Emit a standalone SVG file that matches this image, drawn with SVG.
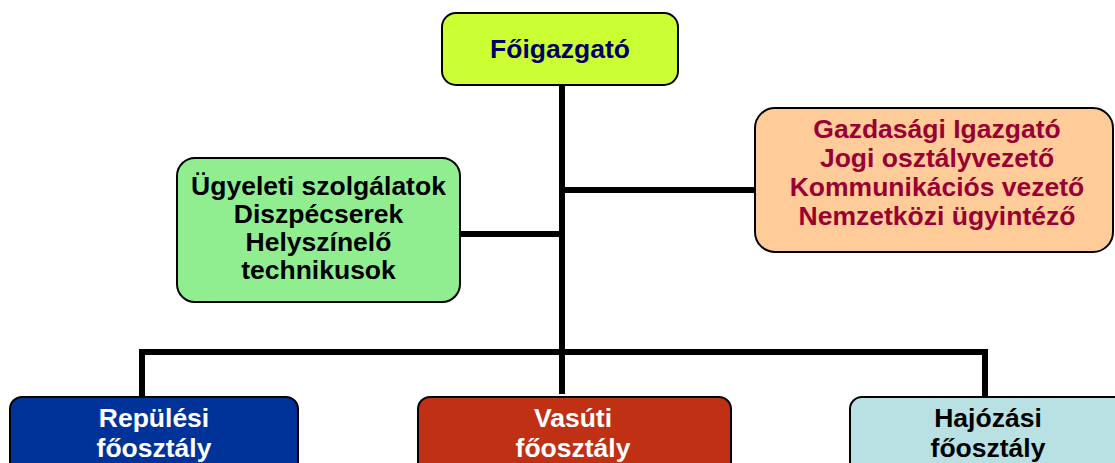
<svg xmlns="http://www.w3.org/2000/svg" width="1115" height="463" viewBox="0 0 1115 463">
<style>
.box{stroke:#000;stroke-width:2}
.t{font-family:"Liberation Sans",Arial,sans-serif;font-weight:bold;font-size:26.5px;text-anchor:middle}
.ln{stroke:#000;stroke-width:6;fill:none}
</style>
<rect width="1115" height="463" fill="#fff"/>
<g id="connectors">
<line class="ln" x1="562" y1="85" x2="562" y2="394"/>
<line class="ln" x1="460" y1="234" x2="562" y2="234"/>
<line class="ln" x1="562" y1="190" x2="755" y2="190"/>
<polyline class="ln" points="142,396 142,352 985,352 985,396"/>
</g>
<g id="n-foigazgato">
<rect class="box" x="442" y="13" width="236" height="72" rx="14" fill="#CCFF33"/>
<text class="t" x="560" y="58" fill="#000066">Főigazgató</text>
</g>
<g id="n-ugyeleti">
<rect class="box" x="177" y="158" width="283" height="144" rx="18" fill="#90EE90"/>
<text class="t" x="318.5" y="195">Ügyeleti szolgálatok</text>
<text class="t" x="318.5" y="223">Diszpécserek</text>
<text class="t" x="318.5" y="251">Helyszínelő</text>
<text class="t" x="318.5" y="279">technikusok</text>
</g>
<g id="n-gazdasagi">
<rect class="box" x="755" y="108" width="358" height="144" rx="20" fill="#FFCC99"/>
<text class="t" x="937" y="138" fill="#990033">Gazdasági Igazgató</text>
<text class="t" x="937" y="167" fill="#990033">Jogi osztályvezető</text>
<text class="t" x="937" y="196" fill="#990033">Kommunikációs vezető</text>
<text class="t" x="937" y="225" fill="#990033">Nemzetközi ügyintéző</text>
</g>
<g id="n-repulesi">
<rect class="box" x="10" y="397" width="288" height="80" rx="12" fill="#003399"/>
<text class="t" x="154" y="427" fill="#fff">Repülési</text>
<text class="t" x="154" y="457" fill="#fff">főosztály</text>
</g>
<g id="n-vasuti">
<rect class="box" x="418" y="397" width="313" height="80" rx="12" fill="#BF3014"/>
<text class="t" x="573" y="427" fill="#fff">Vasúti</text>
<text class="t" x="573" y="457" fill="#fff">főosztály</text>
</g>
<g id="n-hajozasi">
<rect class="box" x="850" y="397" width="276" height="80" rx="12" fill="#B9E0E3"/>
<text class="t" x="988" y="427">Hajózási</text>
<text class="t" x="988" y="457">főosztály</text>
</g>
</svg>
